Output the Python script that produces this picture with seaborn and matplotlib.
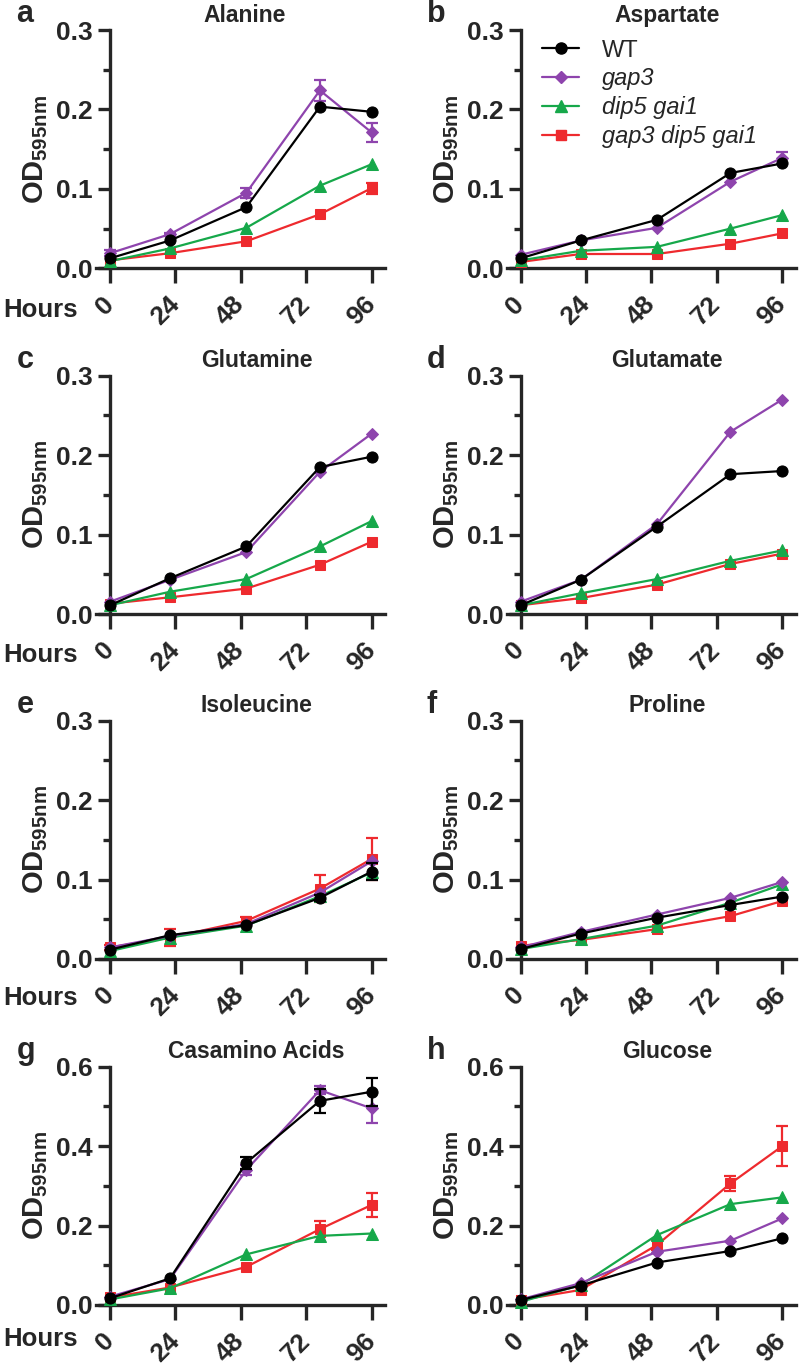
import numpy as np
import pandas as pd
import seaborn as sns
import matplotlib.pyplot as plt
from matplotlib.lines import Line2D
from matplotlib.transforms import ScaledTranslation
from matplotlib.ticker import MultipleLocator, FormatStrFormatter

# =====================================================
# Data (OD595nm)
# =====================================================

hours = [0, 22, 50, 77, 96]
tick_hours = [0, 24, 48, 72, 96]
strains = ["WT", "gap3", "dip5 gai1", "gap3 dip5 gai1"]
colors = ["#000000", "#8E44AD", "#16A84A", "#EE2A2E"]
markers = ["o", "D", "^", "s"]
marker_sizes = [8, 6, 8.5, 7.5]

# rows: WT, gap3, dip5 gai1, gap3 dip5 gai1
alanine = [
    [0.0126, 0.035, 0.077, 0.2035, 0.197],
    [0.019, 0.043, 0.095, 0.224, 0.171],
    [0.009, 0.025, 0.051, 0.104, 0.131],
    [0.010, 0.019, 0.034, 0.068, 0.101],
]
alanine_err = [
    [0, 0, 0, 0, 0],
    [0.004, 0.002, 0.006, 0.013, 0.012],
    [0, 0, 0, 0, 0],
    [0, 0, 0, 0, 0.007],
]

aspartate = [
    [0.0126, 0.035, 0.061, 0.120, 0.132],
    [0.017, 0.035, 0.051, 0.109, 0.139],
    [0.010, 0.022, 0.027, 0.050, 0.067],
    [0.008, 0.018, 0.018, 0.031, 0.044],
]
aspartate_err = [
    [0, 0, 0, 0, 0],
    [0, 0, 0, 0, 0.008],
    [0, 0, 0, 0, 0],
    [0, 0, 0, 0, 0],
]

glutamine = [
    [0.011, 0.045, 0.085, 0.185, 0.198],
    [0.0155, 0.043, 0.078, 0.179, 0.227],
    [0.011, 0.028, 0.044, 0.085, 0.117],
    [0.013, 0.021, 0.032, 0.062, 0.091],
]
glutamine_err = [[0] * 5, [0] * 5, [0] * 5, [0] * 5]

glutamate = [
    [0.011, 0.043, 0.110, 0.176, 0.180],
    [0.0155, 0.043, 0.113, 0.2295, 0.270],
    [0.011, 0.026, 0.044, 0.067, 0.080],
    [0.011, 0.020, 0.037, 0.063, 0.076],
]
glutamate_err = [[0] * 5, [0] * 5, [0] * 5, [0] * 5]

isoleucine = [
    [0.0117, 0.030, 0.0426, 0.077, 0.110],
    [0.0146, 0.029, 0.044, 0.0836, 0.123],
    [0.010, 0.027, 0.042, 0.079, 0.109],
    [0.0146, 0.027, 0.048, 0.0886, 0.126],
]
isoleucine_err = [
    [0, 0, 0, 0.004, 0.011],
    [0, 0, 0, 0, 0],
    [0, 0, 0, 0, 0],
    [0.003, 0.011, 0.005, 0.017, 0.026],
]

proline = [
    [0.0125, 0.032, 0.052, 0.068, 0.0786],
    [0.0146, 0.034, 0.056, 0.077, 0.097],
    [0.0125, 0.025, 0.042, 0.071, 0.094],
    [0.0167, 0.024, 0.0376, 0.054, 0.073],
]
proline_err = [[0] * 5, [0] * 5, [0] * 5, [0] * 5]

casamino = [
    [0.017, 0.067, 0.358, 0.514, 0.537],
    [0.021, 0.065, 0.340, 0.541, 0.495],
    [0.014, 0.042, 0.1275, 0.174, 0.180],
    [0.019, 0.044, 0.096, 0.191, 0.252],
]
casamino_err = [
    [0, 0, 0.015, 0.030, 0.035],
    [0, 0, 0.012, 0.010, 0.038],
    [0, 0, 0, 0, 0],
    [0, 0, 0, 0.020, 0.030],
]

glucose = [
    [0.0126, 0.049, 0.107, 0.136, 0.168],
    [0.014, 0.055, 0.134, 0.162, 0.218],
    [0.008, 0.050, 0.176, 0.254, 0.271],
    [0.0126, 0.038, 0.151, 0.306, 0.400],
]
glucose_err = [
    [0, 0, 0, 0, 0],
    [0, 0, 0, 0, 0],
    [0, 0, 0, 0, 0],
    [0, 0.004, 0.012, 0.020, 0.050],
]

panels = [
    ("a", "Alanine", alanine, alanine_err, 0.3),
    ("b", "Aspartate", aspartate, aspartate_err, 0.3),
    ("c", "Glutamine", glutamine, glutamine_err, 0.3),
    ("d", "Glutamate", glutamate, glutamate_err, 0.3),
    ("e", "Isoleucine", isoleucine, isoleucine_err, 0.3),
    ("f", "Proline", proline, proline_err, 0.3),
    ("g", "Casamino Acids", casamino, casamino_err, 0.6),
    ("h", "Glucose", glucose, glucose_err, 0.6),
]

# =====================================================
# Style
# =====================================================

sns.set_style("ticks")
plt.rcParams["font.family"] = ["Liberation Sans", "DejaVu Sans"]
plt.rcParams["font.weight"] = "bold"
plt.rcParams["axes.labelweight"] = "bold"
plt.rcParams["axes.titleweight"] = "bold"
plt.rcParams["mathtext.fontset"] = "custom"
plt.rcParams["mathtext.rm"] = "Liberation Sans"
plt.rcParams["mathtext.bf"] = "Liberation Sans:bold"

W, H = 800, 1369
fig = plt.figure(figsize=(W / 100, H / 100), dpi=100)

ax_w, ax_h = 288.9, 238.3
col_left = [96.4, 507.0]
row_top = [30.0, 375.7, 720.7, 1066.7]
hours_y = [-0.176, -0.172, -0.164, -0.143]
draw_order = [3, 2, 1, 0]
lw = 2.4

for k, (letter, title, values, errors, ymax) in enumerate(panels):
    row, col = divmod(k, 2)
    left = col_left[col]
    top = row_top[row]
    ax = fig.add_axes([left / W, 1 - (top + ax_h) / H, ax_w / W, ax_h / H])

    for i in draw_order:
        sns.lineplot(
            x=hours, y=values[i], ax=ax,
            color=colors[i], marker=markers[i],
            markersize=marker_sizes[i],
            markeredgecolor=colors[i],
            linewidth=1.6, legend=False,
            clip_on=False, zorder=3 + (3 - i)
        )
        err = np.array(errors[i])
        mask = err > 0
        if mask.any():
            ax.errorbar(
                np.array(hours)[mask], np.array(values[i])[mask],
                yerr=err[mask], fmt="none", ecolor=colors[i],
                elinewidth=1.6, capsize=4.5, capthick=1.6,
                zorder=3 + (3 - i), clip_on=False
            )

    ax.set_xlim(-5, 101)
    ax.set_ylim(0, ymax)
    ax.spines["left"].set_position(("data", 0))
    ax.spines["right"].set_visible(False)
    ax.spines["top"].set_visible(False)
    for s in ["left", "bottom"]:
        ax.spines[s].set_linewidth(lw)

    ax.set_xticks(tick_hours)
    ax.set_xticklabels(
        [str(h) for h in tick_hours], rotation=45,
        ha="right", va="center", rotation_mode="anchor",
        fontsize=19, fontweight="bold"
    )
    shift = ScaledTranslation(5 / 100, 0, fig.dpi_scale_trans)
    for lab in ax.get_xticklabels():
        lab.set_transform(lab.get_transform() + shift)

    ax.yaxis.set_major_locator(MultipleLocator(ymax / 3))
    ax.yaxis.set_minor_locator(MultipleLocator(ymax / 6))
    ax.yaxis.set_major_formatter(FormatStrFormatter("%.1f"))
    ax.tick_params(axis="x", which="major", length=11, width=lw,
                   labelsize=19, pad=12, direction="out")
    ax.tick_params(axis="y", which="major", length=8.5, width=lw,
                   labelsize=19, pad=4, direction="out")
    ax.tick_params(axis="y", which="minor", length=5, width=lw,
                   direction="out")
    for lab in ax.get_yticklabels():
        lab.set_fontweight("bold")

    ax.set_xlabel("")
    ax.set_ylabel(r"OD$_{\mathbf{595nm}}$", fontsize=21, fontweight="bold")
    ax.yaxis.set_label_coords(-0.16, 0.5)
    title_x = 0.514 if letter == "a" else 0.555
    ax.set_title(title, fontsize=16.5, pad=6, x=title_x)

    fig.text((left - 80) / W, 1 - (top - 8) / H, letter,
             fontsize=22, fontweight="bold", va="baseline", ha="left")

    if col == 0:
        ax.text(-0.322, hours_y[row], "Hours", transform=ax.transAxes,
                ha="left", va="center", fontsize=18.5, fontweight="bold")

    if letter == "b":
        handles = [
            Line2D([0], [0], color=colors[i], marker=markers[i],
                   markersize=marker_sizes[i], markeredgecolor=colors[i],
                   linewidth=1.6)
            for i in range(4)
        ]
        leg = ax.legend(
            handles, strains, loc="upper left",
            bbox_to_anchor=(0.12, 0.96), frameon=False,
            borderaxespad=0, borderpad=0, handlelength=1.6,
            handletextpad=0.95, labelspacing=0.25,
            prop={"family": "Liberation Sans", "weight": "normal", "size": 17}
        )
        for t in leg.get_texts()[1:]:
            t.set_fontstyle("italic")

fig.savefig("out.png", dpi=100)
